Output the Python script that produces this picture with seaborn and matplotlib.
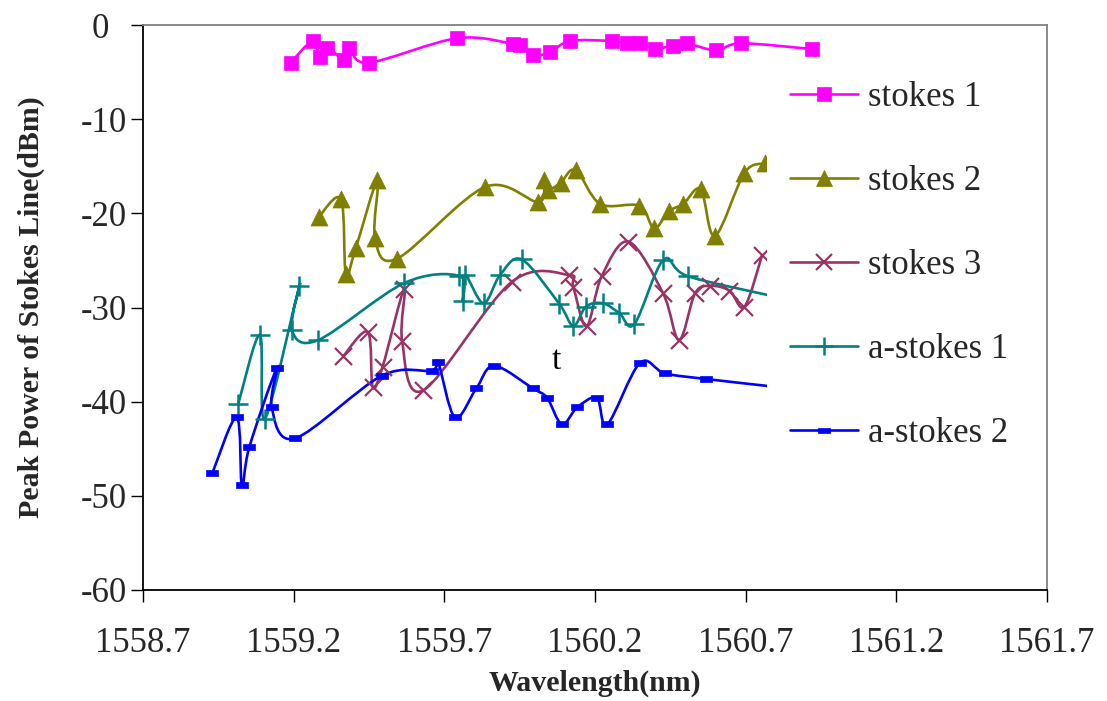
import matplotlib
matplotlib.use("Agg")
import matplotlib.pyplot as plt
import numpy as np
import pandas as pd
import seaborn as sns
from matplotlib.lines import Line2D
from matplotlib.patches import PathPatch
from matplotlib.path import Path

stokes1_x = [1559.190, 1559.263, 1559.287, 1559.312, 1559.367, 1559.385, 1559.449, 1559.743,
             1559.929, 1559.951, 1559.993, 1560.051, 1560.117, 1560.255, 1560.305, 1560.350,
             1560.400, 1560.458, 1560.504, 1560.602, 1560.684, 1560.919]
stokes1_y = [-4.0, -1.7, -3.4, -2.4, -3.7, -2.45, -4.0, -1.4,
             -2.0, -2.1, -3.2, -2.9, -1.7, -1.7, -1.95, -1.95,
             -2.5, -2.2, -1.95, -2.7, -1.95, -2.55]

stokes2_x = [1559.284, 1559.357, 1559.373, 1559.406, 1559.478, 1559.470, 1559.544, 1559.835,
             1560.012, 1560.031, 1560.045, 1560.086, 1560.136, 1560.217, 1560.347, 1560.396,
             1560.444, 1560.493, 1560.551, 1560.598, 1560.696, 1560.764]
stokes2_y = [-20.35, -18.5, -26.4, -23.7, -16.5, -22.65, -24.8, -17.2,
             -18.8, -16.5, -17.5, -16.75, -15.4, -19.0, -19.2, -21.6,
             -19.8, -19.0, -17.45, -22.4, -15.7, -14.7]

stokes3_x = [1559.365, 1559.446, 1559.462, 1559.495, 1559.567, 1559.560, 1559.630, 1559.923,
             1560.115, 1560.128, 1560.172, 1560.222, 1560.311, 1560.426, 1560.479, 1560.532,
             1560.582, 1560.646, 1560.696, 1560.755]
stokes3_y = [-35.15, -32.6, -38.4, -36.3, -28.0, -33.6, -38.8, -27.3,
             -26.55, -27.8, -32.0, -26.7, -23.0, -28.5, -33.45, -28.5,
             -27.7, -28.2, -29.9, -24.4]

astokes1_x = [1559.016, 1559.088, 1559.105, 1559.219, 1559.194, 1559.282, 1559.567, 1559.750,
              1559.761, 1559.769, 1559.830, 1559.885, 1559.957, 1560.081, 1560.128, 1560.170,
              1560.226, 1560.281, 1560.331, 1560.427, 1560.510, 1560.820]
astokes1_y = [-40.25, -32.9, -41.8, -27.7, -32.4, -33.45, -27.4, -26.65,
              -29.3, -26.55, -29.55, -26.55, -24.9, -29.6, -31.96, -29.9,
              -29.55, -30.6, -31.75, -24.95, -26.7, -29.0]

astokes2_x = [1558.930, 1559.011, 1559.028, 1559.053, 1559.144, 1559.127, 1559.204, 1559.492,
              1559.658, 1559.679, 1559.735, 1559.806, 1559.865, 1559.994, 1560.041, 1560.090,
              1560.141, 1560.206, 1560.241, 1560.349, 1560.432, 1560.570, 1560.820]
astokes2_y = [-47.6, -41.66, -48.9, -44.8, -36.45, -40.6, -43.9, -37.25,
              -36.7, -35.8, -41.66, -38.6, -36.2, -38.6, -39.6, -42.4,
              -40.6, -39.6, -42.4, -35.9, -37.0, -37.6, -38.5]

series_names = ["stokes 1", "stokes 2", "stokes 3", "a-stokes 1", "a-stokes 2"]
x_ticks = [1558.7, 1559.2, 1559.7, 1560.2, 1560.7, 1561.2, 1561.7]
y_ticks = [-60, -50, -40, -30, -20, -10, 0]
y_ticklabels = ["-60", "-50", "-40", "-30", "-20", "-10", "0  "]

dash = Path([(-1, -0.45), (1, -0.45), (1, 0.45), (-1, 0.45), (-1, -0.45)],
            [Path.MOVETO, Path.LINETO, Path.LINETO, Path.LINETO, Path.CLOSEPOLY])

styles = {
    "stokes 1": dict(color="#FF00FF", marker="s", s=100, lw=0.5, ms=10, mew=0.5),
    "stokes 2": dict(color="#808000", marker="^", s=150, lw=0.5, ms=12, mew=0.5),
    "stokes 3": dict(color="#993366", marker="x", s=150, lw=1.6, ms=12, mew=1.6),
    "a-stokes 1": dict(color="#008080", marker="+", s=190, lw=1.8, ms=13, mew=1.8),
    "a-stokes 2": dict(color="#0000FF", marker=dash, s=70, lw=0.5, ms=8, mew=0.5),
}


def smooth_path(xs, ys):
    """Excel-like smoothed line: cubic bezier through points in order"""
    pts = np.column_stack([xs, ys])
    n = len(pts)
    verts = [pts[0]]
    codes = [Path.MOVETO]
    for i in range(n - 1):
        p0 = pts[max(i - 1, 0)]
        p1 = pts[i]
        p2 = pts[i + 1]
        p3 = pts[min(i + 2, n - 1)]
        verts += [p1 + (p2 - p0) / 6, p2 - (p3 - p1) / 6, p2]
        codes += [Path.CURVE4] * 3
    return Path(verts, codes)


df = pd.concat(
    [
        pd.DataFrame({"wl": x, "power": y, "series": name})
        for name, x, y in zip(
            series_names,
            [stokes1_x, stokes2_x, stokes3_x, astokes1_x, astokes2_x],
            [stokes1_y, stokes2_y, stokes3_y, astokes1_y, astokes2_y],
        )
    ],
    ignore_index=True,
)

sns.set_style("ticks")
plt.rcParams["font.family"] = ["Liberation Serif", "DejaVu Serif"]
plt.rcParams["axes.unicode_minus"] = False

fig = plt.figure(figsize=(11.07, 7.01), dpi=100)
ax = fig.add_axes([143 / 1107, 1 - 590 / 701, 904 / 1107, 565 / 701])

for name in series_names:
    st = styles[name]
    sub = df[df["series"] == name]
    ax.add_patch(PathPatch(smooth_path(sub["wl"].values, sub["power"].values),
                           fill=False, edgecolor=st["color"], lw=1.9, zorder=2))
    kw = dict(marker=st["marker"], s=st["s"], color=st["color"], linewidth=st["lw"], zorder=3)
    if name not in ("stokes 3", "a-stokes 1"):
        kw["edgecolor"] = st["color"]
    sns.scatterplot(data=sub, x="wl", y="power", ax=ax, legend=False, **kw)

# stray glyph in the original chart
ax.text(1560.071, -35.7, "t", fontsize=24, ha="center", va="center", color="black")

ax.set_xlim(1558.7, 1561.7)
ax.set_ylim(-60, 0)
ax.set_xticks(x_ticks)
ax.set_xticklabels([f"{v:.1f}" for v in x_ticks])
ax.set_yticks(y_ticks)
ax.set_yticklabels(y_ticklabels)
ax.tick_params(axis="both", direction="out", length=8.6, width=1, labelsize=25,
               color="black")
ax.tick_params(axis="x", pad=18)
ax.tick_params(axis="y", pad=3)

for side in ["left", "bottom"]:
    ax.spines[side].set_color("black")
    ax.spines[side].set_linewidth(1.3)
for side in ["top", "right"]:
    ax.spines[side].set_visible(True)
    ax.spines[side].set_color("#808080")
    ax.spines[side].set_linewidth(1.3)

ax.set_xlabel("Wavelength(nm)", fontsize=21.5, fontweight="bold", labelpad=7)
ax.set_ylabel("Peak Power of Stokes Line(dBm)", fontsize=21.5, fontweight="bold", labelpad=26)

handles = [
    Line2D([], [], color=styles[n]["color"], lw=1.9, marker=styles[n]["marker"],
           markersize=styles[n]["ms"], markeredgewidth=styles[n]["mew"],
           markeredgecolor=styles[n]["color"], markerfacecolor=styles[n]["color"])
    for n in series_names
]
leg = ax.legend(handles, series_names, loc="upper left",
                bbox_to_anchor=((767 - 143) / 904, (590 - 58) / 565),
                borderaxespad=0, borderpad=0.66, fontsize=25, handlelength=1.95,
                handletextpad=0.3, labelspacing=1.47, frameon=True, fancybox=False,
                facecolor="white", edgecolor="none", framealpha=1)
leg.set_zorder(10)

fig.savefig("out.png", dpi=100)
